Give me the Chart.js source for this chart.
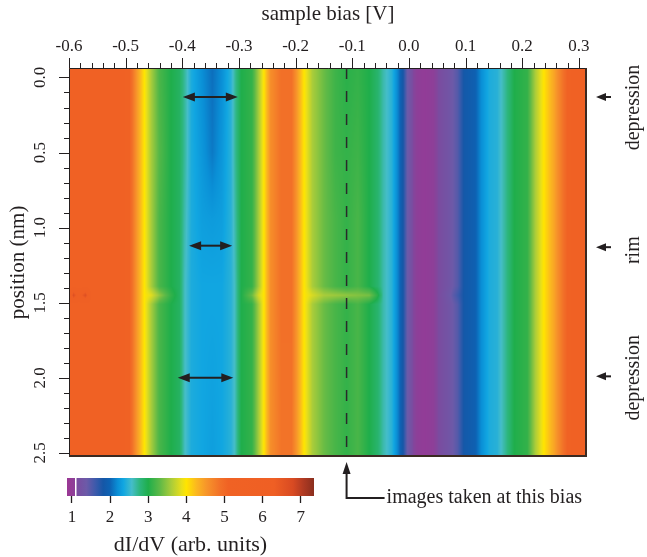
<!DOCTYPE html>
<html>
<head>
<meta charset="utf-8">
<script src="https://cdn.jsdelivr.net/npm/chart.js@4.4.1/dist/chart.umd.min.js"></script>
<style>
  html, body { margin: 0; padding: 0; background: #fff; }
  #wrap { position: relative; width: 647px; height: 557px; }
  #mapChart { position: absolute; left: 0; top: 0; }
  #barChart { position: absolute; left: 0; top: 470px; }
</style>
</head>
<body>
<div id="wrap">
  <canvas id="mapChart" width="647" height="557"></canvas>
  <canvas id="barChart" width="340" height="87"></canvas>
</div>
<script>
// sample bias (V) at which each profile value is read
const biasKnots = [-0.600, -0.592, -0.583, -0.571, -0.560, -0.520, -0.495, -0.480, -0.467, -0.455,
  -0.440, -0.420, -0.405, -0.396, -0.384, -0.365, -0.347, -0.330, -0.314, -0.307,
  -0.296, -0.277, -0.265, -0.256, -0.244, -0.225, -0.207, -0.195, -0.185, -0.170,
  -0.150, -0.130, -0.110, -0.090, -0.070, -0.055, -0.045, -0.030, -0.018, -0.010,
  -0.003, 0.008, 0.028, 0.050, 0.072, 0.086, 0.098, 0.116, 0.128, 0.142,
  0.156, 0.170, 0.186, 0.209, 0.223, 0.238, 0.256, 0.273, 0.290, 0.314];

// position (nm) of each profile row
const rowPositions = [-0.06, 0.5, 0.95, 1.39, 1.45, 1.51, 2.53];

// dI/dV (arb. units) along the bias axis, one array per position
const dIdV_top = [5.6, 5.6, 5.6, 5.6, 5.6, 5.6, 5.2, 4.5, 4.0, 3.6,
  3.2, 3.0, 2.9, 2.7, 2.4, 2.2, 2.05, 2.2, 2.45, 2.7,
  3.0, 3.1, 3.6, 4.0, 4.6, 4.9, 4.9, 4.4, 4.0, 3.6,
  3.35, 3.15, 3.05, 3.1, 3.0, 2.85, 2.65, 2.45, 2.1, 1.8,
  1.4, 1.1, 1.0, 1.1, 1.3, 1.5, 1.85, 1.95, 2.2, 2.4,
  2.45, 2.7, 3.0, 3.1, 3.6, 4.0, 4.4, 4.9, 5.4, 5.6];
const dIdV_050 = [5.6, 5.6, 5.65, 5.6, 5.6, 5.6, 5.2, 4.5, 4.0, 3.6,
  3.25, 3.0, 2.9, 2.7, 2.4, 2.25, 2.1, 2.25, 2.45, 2.7,
  3.0, 3.1, 3.6, 4.0, 4.6, 4.9, 4.9, 4.4, 4.0, 3.6,
  3.35, 3.15, 3.1, 3.15, 3.0, 2.85, 2.65, 2.45, 2.1, 1.8,
  1.4, 1.1, 1.0, 1.1, 1.3, 1.5, 1.85, 1.95, 2.2, 2.4,
  2.45, 2.7, 3.0, 3.1, 3.6, 4.0, 4.4, 4.9, 5.4, 5.6];
const dIdV_095 = [5.6, 5.6, 5.6, 5.6, 5.6, 5.6, 5.2, 4.5, 4.0, 3.6,
  3.2, 3.0, 2.9, 2.65, 2.4, 2.3, 2.28, 2.3, 2.45, 2.65,
  3.0, 3.1, 3.6, 4.0, 4.6, 4.9, 4.9, 4.4, 4.0, 3.6,
  3.35, 3.2, 3.1, 3.2, 3.0, 2.85, 2.65, 2.45, 2.1, 1.8,
  1.4, 1.1, 1.0, 1.1, 1.3, 1.5, 1.85, 1.95, 2.2, 2.4,
  2.45, 2.7, 3.0, 3.1, 3.6, 4.0, 4.4, 4.9, 5.4, 5.6];
const dIdV_139 = [5.6, 5.6, 5.6, 5.6, 5.6, 5.6, 5.2, 4.5, 4.0, 3.6,
  3.2, 3.0, 2.9, 2.6, 2.4, 2.35, 2.35, 2.35, 2.45, 2.6,
  3.0, 3.1, 3.6, 4.0, 4.6, 4.9, 4.9, 4.4, 4.0, 3.6,
  3.35, 3.2, 3.1, 3.2, 3.0, 2.85, 2.65, 2.45, 2.1, 1.8,
  1.4, 1.1, 1.0, 1.1, 1.3, 1.5, 1.85, 1.95, 2.2, 2.4,
  2.45, 2.7, 3.0, 3.1, 3.6, 4.0, 4.4, 4.9, 5.4, 5.6];
const dIdV_145 = [5.6, 6.7, 6.0, 6.7, 5.6, 5.6, 5.2, 4.5, 4.0, 3.85,
  3.5, 3.1, 2.9, 2.6, 2.4, 2.35, 2.35, 2.35, 2.45, 2.6,
  3.0, 3.35, 3.8, 4.0, 4.6, 4.9, 4.9, 4.4, 4.0, 3.8,
  3.6, 3.55, 3.5, 3.45, 3.4, 3.05, 2.65, 2.45, 2.1, 1.8,
  1.4, 1.1, 1.0, 1.1, 1.35, 1.6, 1.85, 1.95, 2.2, 2.4,
  2.45, 2.7, 3.0, 3.1, 3.6, 4.0, 4.4, 4.9, 5.4, 5.6];
const dIdV_151 = [5.6, 5.6, 5.6, 5.6, 5.6, 5.6, 5.2, 4.5, 4.0, 3.6,
  3.2, 3.0, 2.9, 2.6, 2.4, 2.35, 2.35, 2.35, 2.45, 2.6,
  3.0, 3.1, 3.6, 4.0, 4.6, 4.9, 4.9, 4.4, 4.0, 3.6,
  3.35, 3.2, 3.1, 3.2, 3.0, 2.85, 2.65, 2.45, 2.1, 1.8,
  1.4, 1.1, 1.0, 1.1, 1.3, 1.5, 1.85, 1.95, 2.2, 2.4,
  2.45, 2.7, 3.0, 3.1, 3.6, 4.0, 4.4, 4.9, 5.4, 5.6];
const dIdV_bottom = [5.6, 5.6, 5.6, 5.6, 5.6, 5.6, 5.2, 4.5, 4.0, 3.6,
  3.2, 3.0, 2.9, 2.6, 2.4, 2.35, 2.3, 2.35, 2.45, 2.6,
  3.0, 3.1, 3.6, 4.0, 4.6, 4.85, 4.85, 4.4, 4.0, 3.6,
  3.35, 3.2, 3.1, 3.2, 3.0, 2.85, 2.65, 2.45, 2.1, 1.8,
  1.4, 1.1, 1.0, 1.1, 1.3, 1.5, 1.85, 1.95, 2.2, 2.4,
  2.45, 2.7, 3.0, 3.1, 3.6, 4.0, 4.4, 4.9, 5.4, 5.6];
const dIdVRows = [dIdV_top, dIdV_050, dIdV_095, dIdV_139, dIdV_145, dIdV_151, dIdV_bottom];

const biasTickLabels = [-0.6, -0.5, -0.4, -0.3, -0.2, -0.1, 0.0, 0.1, 0.2, 0.3];
const positionTickLabels = [0.0, 0.5, 1.0, 1.5, 2.0, 2.5];
const colorbarTicks = [1, 2, 3, 4, 5, 6, 7];

// annotations, in data units
const imageBias = -0.11;
const spanArrows = [
  { pos: 0.13, from: -0.399, to: -0.302 },
  { pos: 1.12, from: -0.388, to: -0.312 },
  { pos: 2.00, from: -0.408, to: -0.310 },
];
const siteMarkers = [
  { pos: 0.13, labelPos: 0.20, label: 'depression' },
  { pos: 1.13, labelPos: 1.15, label: 'rim' },
  { pos: 1.99, labelPos: 2.00, label: 'depression' },
];

const cmapStops = [
  [0.87, '#9b3794'], [1.07, '#8d3f98'], [1.12, '#7b4b9f'], [1.38, '#6c5aa8'],
  [1.62, '#3c5aab'], [1.82, '#1557a7'], [2.0, '#0d63b4'], [2.2, '#0a8fd6'],
  [2.35, '#11a6e1'], [2.57, '#45bdc9'], [2.78, '#2db67d'], [3.0, '#1fae4b'],
  [3.3, '#5db947'], [3.6, '#a9cc3a'], [3.88, '#e9df1a'], [4.0, '#ffe500'],
  [4.27, '#fbb720'], [4.53, '#f7952a'], [4.88, '#f27128'], [5.1, '#f06224'],
  [6.3, '#ef5f24'], [6.8, '#d84a22'], [7.07, '#b03a22'], [7.35, '#8a2e1e'],
];

const SERIF = '"Liberation Serif", "Times New Roman", serif';
const INK = '#231f20';
Chart.defaults.font.family = SERIF;
Chart.defaults.color = INK;

function hexRgb(h) {
  return [parseInt(h.slice(1, 3), 16), parseInt(h.slice(3, 5), 16), parseInt(h.slice(5, 7), 16)];
}
const cmapRgb = cmapStops.map(s => [s[0], hexRgb(s[1])]);
function colorFor(v) {
  if (v <= cmapRgb[0][0]) return cmapRgb[0][1];
  for (let i = 0; i < cmapRgb.length - 1; i++) {
    const [v0, c0] = cmapRgb[i], [v1, c1] = cmapRgb[i + 1];
    if (v <= v1) {
      const t = (v - v0) / (v1 - v0);
      return [c0[0] + (c1[0] - c0[0]) * t, c0[1] + (c1[1] - c0[1]) * t, c0[2] + (c1[2] - c0[2]) * t];
    }
  }
  return cmapRgb[cmapRgb.length - 1][1];
}
function bracket(arr, v) {
  if (v <= arr[0]) return [0, 0];
  for (let i = 0; i < arr.length - 1; i++) {
    if (v <= arr[i + 1]) return [i, (v - arr[i]) / (arr[i + 1] - arr[i])];
  }
  return [arr.length - 2, 1];
}
function isLabel(list, v) {
  return list.some(t => Math.abs(t - v) < 1e-6);
}
function arrowHead(ctx, x, y, dx, dy, len, half) {
  ctx.beginPath();
  ctx.moveTo(x, y);
  ctx.lineTo(x - dx * len - dy * half, y - dy * len + dx * half);
  ctx.lineTo(x - dx * len + dy * half, y - dy * len - dx * half);
  ctx.closePath();
  ctx.fill();
}

const heatmapPlugin = {
  id: 'heatmap',
  beforeDatasetsDraw(chart) {
    const { ctx, chartArea: a, scales: { x, y } } = chart;
    const w = Math.round(a.right - a.left), h = Math.round(a.bottom - a.top);
    const off = document.createElement('canvas');
    off.width = w; off.height = h;
    const octx = off.getContext('2d');
    const img = octx.createImageData(w, h);
    const cols = [];
    for (let i = 0; i < w; i++) cols.push(bracket(biasKnots, x.getValueForPixel(a.left + i + 0.5)));
    for (let j = 0; j < h; j++) {
      const [r, tr] = bracket(rowPositions, y.getValueForPixel(a.top + j + 0.5));
      const r0 = dIdVRows[r], r1 = dIdVRows[r + 1];
      for (let i = 0; i < w; i++) {
        const [k, tb] = cols[i];
        const v0 = r0[k] + (r0[k + 1] - r0[k]) * tb;
        const v1 = r1[k] + (r1[k + 1] - r1[k]) * tb;
        const c = colorFor(v0 + (v1 - v0) * tr);
        const p = (j * w + i) * 4;
        img.data[p] = c[0]; img.data[p + 1] = c[1]; img.data[p + 2] = c[2]; img.data[p + 3] = 255;
      }
    }
    octx.putImageData(img, 0, 0);
    ctx.drawImage(off, a.left, a.top);
  },
  afterDatasetsDraw(chart) {
    const { ctx, chartArea: a, scales: { x, y } } = chart;
    ctx.save();
    ctx.strokeStyle = INK;
    ctx.fillStyle = INK;

    // frame
    ctx.lineWidth = 1;
    ctx.beginPath();
    ctx.moveTo(a.left + 0.5, a.bottom); ctx.lineTo(a.left + 0.5, a.top + 0.5); ctx.lineTo(a.right, a.top + 0.5);
    ctx.stroke();
    ctx.strokeStyle = '#3a2a22';
    ctx.lineWidth = 2;
    ctx.beginPath();
    ctx.moveTo(a.right - 1, a.top); ctx.lineTo(a.right - 1, a.bottom - 1); ctx.lineTo(a.left, a.bottom - 1);
    ctx.stroke();

    // tick marks
    ctx.strokeStyle = INK;
    ctx.lineWidth = 1;
    ctx.beginPath();
    x.ticks.forEach(t => {
      const px = Math.round(x.getPixelForValue(t.value)) + 0.5;
      const len = isLabel(biasTickLabels, t.value) ? 10 : 5;
      ctx.moveTo(px, a.top); ctx.lineTo(px, a.top - len);
    });
    y.ticks.forEach(t => {
      const py = Math.round(y.getPixelForValue(t.value)) + 0.5;
      const len = isLabel(positionTickLabels, t.value) ? 10 : 5;
      ctx.moveTo(a.left, py); ctx.lineTo(a.left - len, py);
    });
    ctx.stroke();

    // dashed line at imaging bias
    const bx = x.getPixelForValue(imageBias);
    ctx.lineWidth = 1.5;
    ctx.strokeStyle = '#2a2a2a';
    ctx.setLineDash([11, 12]);
    ctx.beginPath();
    ctx.moveTo(bx, a.top); ctx.lineTo(bx, a.bottom);
    ctx.stroke();
    ctx.setLineDash([]);

    // double arrows across the gap
    ctx.strokeStyle = INK;
    ctx.lineWidth = 2;
    spanArrows.forEach(s => {
      const py = y.getPixelForValue(s.pos);
      const x0 = x.getPixelForValue(s.from), x1 = x.getPixelForValue(s.to);
      ctx.beginPath();
      ctx.moveTo(x0 + 8, py); ctx.lineTo(x1 - 8, py);
      ctx.stroke();
      arrowHead(ctx, x0, py, -1, 0, 12, 4.5);
      arrowHead(ctx, x1, py, 1, 0, 12, 4.5);
    });

    // site markers on the right
    ctx.lineWidth = 2;
    ctx.font = '20px ' + SERIF;
    ctx.textAlign = 'center';
    ctx.textBaseline = 'middle';
    siteMarkers.forEach(m => {
      const py = y.getPixelForValue(m.pos);
      ctx.beginPath();
      ctx.moveTo(a.right + 24, py); ctx.lineTo(a.right + 15, py);
      ctx.stroke();
      arrowHead(ctx, a.right + 9, py, -1, 0, 10, 4);
      ctx.save();
      ctx.translate(a.right + 47, y.getPixelForValue(m.labelPos));
      ctx.rotate(-Math.PI / 2);
      ctx.fillText(m.label, 0, 0);
      ctx.restore();
    });

    // callout below the map
    const cy = a.bottom + 41;
    ctx.lineWidth = 2;
    ctx.beginPath();
    ctx.moveTo(bx, a.bottom + 14); ctx.lineTo(bx, cy); ctx.lineTo(bx + 38, cy);
    ctx.stroke();
    arrowHead(ctx, bx, a.bottom + 5, 0, -1, 12, 4);
    ctx.textAlign = 'left';
    ctx.fillText('images taken at this bias', bx + 40, cy);
    ctx.restore();
  }
};

const biasTickValues = [];
for (let i = -30; i <= 15; i++) biasTickValues.push(i * 0.02);
const positionTickValues = [];
for (let i = 0; i <= 25; i++) positionTickValues.push(i * 0.1);

new Chart(document.getElementById('mapChart'), {
  type: 'scatter',
  data: { datasets: [{ data: [] }] },
  plugins: [heatmapPlugin],
  options: {
    responsive: false,
    animation: false,
    layout: { padding: { left: 0, top: 0, right: 60, bottom: 100 } },
    plugins: { legend: { display: false }, tooltip: { enabled: false } },
    scales: {
      x: {
        type: 'linear',
        position: 'top',
        min: -0.6,
        max: 0.3144,
        afterBuildTicks: s => { s.ticks = biasTickValues.map(v => ({ value: v })); },
        afterFit: s => { s.height = 68; },
        grid: { drawOnChartArea: false, drawTicks: false },
        border: { display: false },
        ticks: {
          autoSkip: false, minRotation: 0, maxRotation: 0, padding: 11,
          font: { size: 17 }, color: INK,
          callback: v => isLabel(biasTickLabels, v) ? v.toFixed(1) : '',
        },
        title: { display: true, text: 'sample bias [V]', font: { size: 21 }, color: INK, padding: { top: 2, bottom: 0 } },
      },
      y: {
        type: 'linear',
        position: 'left',
        reverse: true,
        min: -0.063,
        max: 2.527,
        afterBuildTicks: s => { s.ticks = positionTickValues.map(v => ({ value: v })); },
        afterFit: s => { s.width = 69; },
        grid: { drawOnChartArea: false, drawTicks: false },
        border: { display: false },
        ticks: {
          autoSkip: false, minRotation: 90, maxRotation: 90, crossAlign: 'center', padding: 18,
          font: { size: 17 }, color: INK,
          callback: v => isLabel(positionTickLabels, v) ? v.toFixed(1) : '',
        },
        title: { display: true, text: 'position (nm)', font: { size: 21 }, color: INK, padding: { top: 6, bottom: 0 } },
      },
    },
  },
});

const colorbarPlugin = {
  id: 'colorbar',
  beforeDatasetsDraw(chart) {
    const { ctx, chartArea: a, scales: { x } } = chart;
    const g = ctx.createLinearGradient(a.left, 0, a.right, 0);
    cmapStops.forEach(([v, c]) => {
      const f = (x.getPixelForValue(v) - a.left) / (a.right - a.left);
      g.addColorStop(Math.min(1, Math.max(0, f)), c);
    });
    ctx.save();
    ctx.fillStyle = g;
    ctx.fillRect(a.left, a.top, a.right - a.left, a.bottom - a.top);
    ctx.fillStyle = '#ffffff';
    ctx.fillRect(Math.round(x.getPixelForValue(1.08)), a.top, 1.5, a.bottom - a.top);
    ctx.restore();
  }
};

new Chart(document.getElementById('barChart'), {
  type: 'scatter',
  data: { datasets: [{ data: [] }] },
  plugins: [colorbarPlugin],
  options: {
    responsive: false,
    animation: false,
    layout: { padding: { left: 67, right: 26, top: 8, bottom: 0 } },
    plugins: { legend: { display: false }, tooltip: { enabled: false } },
    scales: {
      x: {
        type: 'linear',
        position: 'bottom',
        min: 0.87,
        max: 7.35,
        afterBuildTicks: s => { s.ticks = colorbarTicks.map(v => ({ value: v })); },
        afterFit: s => { s.height = 61; },
        grid: { drawOnChartArea: false, tickLength: 7, color: INK, tickWidth: 1.3 },
        border: { display: false },
        ticks: { autoSkip: false, minRotation: 0, maxRotation: 0, padding: 4, font: { size: 17 }, color: INK },
        title: { display: true, text: 'dI/dV (arb. units)', font: { size: 22, lineHeight: 1 }, color: INK, padding: { top: 0, bottom: 1 } },
      },
      y: { display: false, min: 0, max: 1 },
    },
  },
});
</script>
</body>
</html>
